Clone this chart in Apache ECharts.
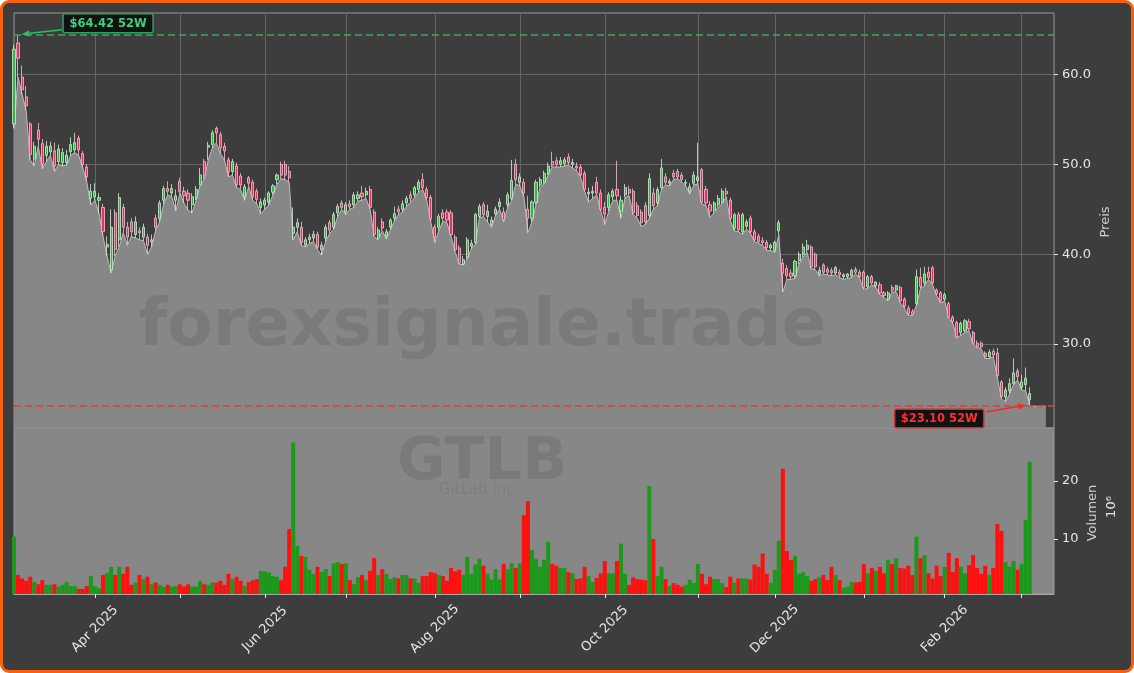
<!DOCTYPE html>
<html><head><meta charset="utf-8">
<script src="https://cdn.jsdelivr.net/npm/echarts@6/dist/echarts.min.js"></script>
<style>
html,body{margin:0;padding:0;background:#ffffff;}
#frame{position:absolute;left:0;top:0;width:1134px;height:673px;box-sizing:border-box;border:3px solid #f7600c;border-radius:9px;background:#3d3d3d;}
#c{position:absolute;left:0;top:0;width:1134px;height:673px;}
</style></head>
<body><div id="frame"></div><div id="c"></div>
<script>
// ---------- data ----------
const startDate = '2025-03-04';
const holidays = ['2025-04-18','2025-05-26','2025-06-19','2025-07-04','2025-09-01','2025-11-27','2025-12-25','2026-01-01','2026-01-19','2026-02-16'];
const tradingDays = 252;
const padDays = 6;

const opens = [54.5,63.5,59.7,57.5,54.5,50.6,53.8,52.3,51.0,51.4,
51.5,50.3,50.2,50.2,51.4,51.6,52.9,51.2,49.7,46.2,
46.4,46.0,45.2,40.8,38.3,44.6,41.6,45.2,43.0,43.6,
42.2,42.6,41.9,41.9,41.4,44.0,44.0,46.0,47.3,46.8,
46.0,48.1,47.0,46.8,45.5,46.3,47.7,50.3,51.9,52.2,
54.0,53.3,52.0,50.5,49.2,49.8,48.7,46.4,48.5,48.0,
47.0,45.2,45.5,45.8,46.9,48.3,50.0,50.0,49.2,42.3,
43.0,43.0,41.0,41.6,41.8,42.2,40.5,41.8,43.5,43.0,
44.6,45.7,44.7,45.6,45.5,46.2,46.8,46.6,47.2,44.7,
41.9,43.6,42.0,43.0,44.0,45.0,45.0,45.7,46.6,46.6,
47.2,48.3,47.2,46.3,43.0,43.0,44.6,44.7,44.6,41.9,
40.7,38.9,39.7,40.9,41.3,44.2,45.5,44.2,43.3,44.5,
45.3,44.7,45.5,46.2,50.0,48.0,48.0,45.0,44.0,45.8,
47.7,48.0,49.0,50.3,50.4,50.0,50.1,50.8,50.0,49.8,
49.7,49.0,46.7,46.8,48.0,46.8,45.2,45.2,46.4,47.2,
44.8,46.6,47.2,47.0,45.4,44.7,45.4,44.3,46.8,45.7,
47.4,48.6,47.9,49.0,49.2,48.8,47.9,47.0,47.9,48.2,
49.4,47.2,45.5,44.9,45.5,45.8,47.0,46.0,42.9,44.4,
42.5,43.1,44.0,42.5,42.0,41.5,41.3,40.7,40.4,42.6,
39.0,38.4,37.9,37.6,39.3,40.0,40.5,40.8,40.0,37.8,
38.8,38.3,38.2,37.9,38.0,37.5,37.5,37.6,38.3,38.0,
38.0,36.4,37.5,36.5,36.6,35.7,35.0,36.3,36.0,36.3,
35.0,34.0,33.6,34.5,37.4,36.8,38.0,38.5,36.0,35.7,
35.0,34.5,33.0,32.4,31.3,31.5,32.5,31.3,30.1,30.1,
29.0,28.6,29.2,29.0,25.8,24.1,24.8,25.6,27.0,25.2,
25.5,23.8];

const highs = [63.3,64.42,61.0,58.7,54.7,52.5,54.6,52.8,52.6,52.5,
52.4,52.2,51.8,51.6,53.0,53.5,53.2,51.5,50.0,47.8,
47.9,46.8,45.6,42.0,45.0,45.0,46.8,45.6,43.6,44.0,
44.2,43.0,43.4,42.3,42.2,44.4,46.0,47.6,48.1,47.8,
47.2,48.5,47.5,47.2,46.8,47.6,49.6,50.6,52.5,53.8,
54.2,53.6,52.4,50.8,50.6,50.2,49.0,47.8,48.7,48.3,
47.3,46.2,46.3,47.0,47.8,49.0,50.3,50.4,49.8,45.2,
44.0,43.6,41.9,42.3,42.6,42.5,41.4,43.3,43.8,44.7,
45.6,46.0,45.8,46.0,46.9,47.0,47.6,47.4,47.6,45.0,
43.0,44.0,42.8,44.0,45.3,45.4,46.0,46.5,47.0,47.6,
48.3,49.0,47.5,46.6,43.3,44.5,45.0,45.0,44.9,42.2,
41.0,39.8,41.9,41.6,44.6,45.6,45.8,45.5,44.2,45.3,
46.2,45.2,46.9,50.5,50.6,49.0,48.4,46.5,46.0,48.3,
48.6,49.3,50.2,51.4,50.8,50.8,50.8,51.2,50.6,50.2,
50.0,49.3,47.4,47.6,48.6,47.2,45.8,46.9,47.3,50.4,
46.5,47.8,47.6,47.3,45.8,45.0,45.8,49.0,47.4,47.5,
50.6,49.0,48.4,49.4,49.5,49.1,48.3,47.9,49.2,52.4,
49.6,47.6,45.9,45.9,46.6,47.3,47.4,46.3,44.6,44.7,
44.6,43.9,44.3,42.8,42.3,41.9,41.6,41.2,41.5,43.8,
39.5,38.8,38.3,39.4,40.3,41.2,41.6,41.0,40.2,38.6,
39.0,38.6,38.5,38.7,38.3,37.9,37.9,38.4,38.6,38.3,
38.2,37.7,37.7,37.0,36.9,35.9,35.9,36.6,36.6,36.5,
35.2,34.3,33.9,38.3,38.5,38.6,38.6,38.7,36.2,35.9,
35.7,34.7,33.2,32.6,32.5,32.8,32.8,31.5,30.4,30.3,
29.2,29.4,29.5,29.6,26.0,25.2,26.2,28.4,27.3,26.6,
27.4,25.2];

const lows = [54.0,59.7,57.8,56.0,50.5,49.8,52.0,49.5,50.3,51.0,
49.2,50.0,49.8,49.9,51.0,51.3,51.0,49.6,48.0,45.5,
46.0,44.6,42.0,39.8,37.9,39.8,40.8,42.4,41.0,42.0,
41.8,41.6,41.5,40.0,40.8,42.6,43.6,45.6,46.6,46.4,
44.8,46.8,45.7,44.9,44.6,46.0,47.7,48.3,50.5,51.8,
52.4,51.2,50.5,48.6,48.8,47.4,47.2,46.0,47.5,46.0,
45.6,44.5,45.0,45.5,46.6,47.8,48.4,48.3,48.0,41.6,
42.5,41.0,40.8,41.2,41.4,40.5,39.9,41.4,42.3,42.8,
44.2,45.0,44.4,45.0,45.2,45.9,46.0,46.2,45.0,42.0,
41.6,42.6,41.7,42.7,43.7,44.4,44.7,45.3,45.8,46.3,
46.9,47.2,46.0,43.6,41.3,42.6,43.7,43.5,42.0,40.3,
38.9,38.8,39.4,40.6,41.1,44.0,44.2,43.6,43.0,44.3,
45.0,43.6,45.2,46.0,47.8,47.6,46.4,42.4,43.6,45.5,
47.4,47.8,48.8,49.7,49.7,49.7,49.8,49.9,49.6,49.3,
48.6,47.0,45.8,46.2,46.6,44.8,43.3,44.8,46.0,46.0,
44.0,46.3,46.5,44.4,44.0,43.1,43.3,44.0,45.0,45.4,
47.2,47.7,47.6,48.3,48.4,48.0,47.6,46.7,47.7,47.8,
45.6,45.4,44.1,44.6,45.2,45.6,46.4,43.8,42.6,42.5,
42.2,42.8,42.3,41.4,41.2,41.0,40.4,40.4,40.2,42.2,
35.8,37.2,37.2,37.3,38.9,39.7,40.2,38.4,38.3,37.6,
37.8,37.7,37.6,37.7,37.4,37.2,37.3,37.4,37.8,37.3,
36.1,36.2,36.6,36.3,35.5,35.2,34.8,35.8,35.8,34.6,
34.0,33.2,33.2,34.3,36.2,36.5,37.2,36.6,35.4,34.6,
34.8,32.9,32.3,30.7,31.0,31.3,31.5,30.0,29.6,29.5,
28.4,28.4,28.6,26.3,23.9,23.6,24.4,25.5,26.0,24.9,
24.8,23.10];

const closes = [62.8,61.8,58.3,56.5,51.1,52.0,52.8,50.0,52.0,52.0,
49.8,51.7,51.3,51.0,52.2,52.4,51.6,50.0,48.6,47.0,
47.0,46.3,42.5,41.1,43.0,40.5,46.3,43.0,41.9,42.5,
43.6,42.4,43.0,41.0,41.6,43.0,45.7,47.3,47.0,47.3,
46.5,47.0,46.5,46.0,46.4,47.2,48.8,48.8,52.1,53.5,
53.5,51.8,51.5,49.2,50.3,47.7,47.7,47.5,47.9,46.4,
46.1,45.8,46.0,46.8,47.6,48.8,48.8,48.8,48.5,43.0,
43.5,41.3,41.6,41.9,42.2,40.8,41.0,43.0,42.7,44.4,
45.3,45.2,45.5,45.3,46.6,46.6,46.4,47.0,45.2,42.2,
42.7,42.9,42.5,43.8,44.5,44.7,45.6,46.2,46.2,47.4,
48.0,47.4,46.3,43.9,41.9,44.2,44.0,43.8,42.2,40.5,
39.0,39.4,41.6,41.2,44.4,45.3,44.4,44.8,43.8,45.0,
45.8,43.8,46.6,48.2,48.3,48.6,46.8,44.0,45.8,48.0,
48.3,49.0,49.8,49.9,50.0,50.4,50.5,50.2,50.2,49.6,
48.8,47.2,46.9,47.0,46.8,45.0,44.5,46.6,47.0,46.5,
46.0,47.4,46.8,44.6,44.3,43.5,43.6,48.4,45.4,47.2,
49.6,48.0,48.1,48.6,48.6,48.3,48.0,47.5,48.8,48.6,
45.8,45.7,44.8,45.7,46.2,47.0,46.7,44.0,44.4,42.7,
44.4,43.6,42.5,41.6,41.4,41.3,40.7,41.0,41.3,43.5,
37.9,37.6,37.5,39.2,40.0,40.8,41.0,38.6,38.6,38.2,
38.0,38.0,37.9,38.5,37.7,37.7,37.8,38.2,38.0,37.5,
36.3,37.5,36.8,36.9,35.7,35.4,35.7,36.0,36.5,34.8,
34.2,33.4,33.3,37.5,36.4,37.8,37.4,36.8,35.6,34.8,
35.5,33.0,32.5,30.8,32.3,32.6,31.7,30.1,29.7,29.7,
28.6,29.1,28.8,26.5,24.2,24.9,25.6,26.8,26.4,25.8,
26.2,24.5];

// volume in millions
const volumes = [10.4,3.8,3.2,2.8,3.5,2.6,2.2,2.9,2.1,2.1,
2.2,1.8,2.1,2.6,1.9,1.9,1.4,1.4,1.9,3.6,
1.9,1.5,3.8,4.1,5.2,3.8,5.2,4.0,5.2,2.1,
2.5,3.8,3.1,3.5,2.2,2.5,2.1,1.8,2.1,1.8,
1.9,2.2,1.8,2.2,1.8,1.8,2.8,2.2,2.1,2.5,
2.5,2.8,2.1,4.0,3.1,3.5,2.8,1.9,2.6,2.9,
3.1,4.5,4.4,4.2,3.6,3.5,2.9,5.2,11.7,26.6,
8.8,7.1,6.9,4.7,4.0,5.2,4.3,4.8,3.6,5.8,
6.0,5.7,5.8,2.9,2.2,3.4,3.8,2.9,4.5,6.7,
3.8,4.8,4.0,3.1,3.4,3.2,3.8,3.8,3.2,3.2,
2.4,3.6,3.6,4.3,4.1,3.8,3.6,2.8,5.0,4.4,
4.7,3.8,6.9,4.0,5.6,6.6,5.4,4.0,3.0,4.8,
3.0,5.7,4.8,5.8,5.0,5.8,14.1,16.5,8.1,6.5,
5.2,6.4,9.5,5.7,5.4,5.0,5.0,4.3,4.1,3.1,
3.2,5.2,3.6,2.6,3.3,4.1,6.2,4.1,4.1,6.2,
9.2,4.0,2.1,3.4,3.1,3.0,2.9,19.1,10.0,3.6,
5.2,3.1,1.9,2.4,2.1,1.8,2.1,3.0,2.4,5.7,
4.0,2.2,3.5,3.1,3.1,2.4,1.7,3.5,2.5,3.2,
3.2,3.2,3.0,5.6,5.2,7.5,4.0,2.4,4.7,9.7,
22.1,7.9,6.4,7.1,4.0,4.3,3.6,2.8,3.1,3.4,
3.8,2.9,5.2,3.8,2.9,1.6,1.8,2.6,2.5,2.6,
5.7,4.1,5.0,4.5,5.2,4.1,6.4,5.7,6.7,5.0,
4.9,5.4,3.8,10.4,6.7,7.2,4.1,3.2,5.4,3.6,
5.2,7.6,4.3,6.7,5.2,4.1,5.5,7.2,5.0,4.0,
5.4,3.8,5.0,12.6,11.4,6.0,5.2,6.2,4.7,5.7,
13.3,23.3];

const lowTail = [23.1, 23.1, 23.1, 23.1];   // flat end of the shaded low band
const priceTicks = [30, 40, 50, 60];
const volumeTicks = [10, 20];
const priceRange = [20.67, 66.83];
const volumeRange = [0.52, 29.1];
const ticker = 'GTLB';
const company = 'GitLab Inc.';
const watermark = 'forexsignale.trade';
const MONTHS = ['Jan','Feb','Mar','Apr','May','Jun','Jul','Aug','Sep','Oct','Nov','Dec'];

// ---------- build ----------
function buildDates(n) {
  const out = [];
  const d = new Date(startDate + 'T12:00:00Z');
  while (out.length < n) {
    const wd = d.getUTCDay();
    const s = d.toISOString().slice(0, 10);
    if (wd !== 0 && wd !== 6 && holidays.indexOf(s) < 0) out.push(s);
    d.setUTCDate(d.getUTCDate() + 1);
  }
  return out;
}
const dates = buildDates(tradingDays + padDays);
const monthStart = new Set();
for (let i = 1; i < dates.length; i++) {
  if (dates[i].slice(5, 7) !== dates[i - 1].slice(5, 7)) monthStart.add(i);
}
const isTick = (idx) => monthStart.has(idx);
const isLabel = (idx, val) => monthStart.has(idx) && (+String(val).slice(5, 7)) % 2 === 0;

const candleData = opens.map((o, i) => [o, closes[i], lows[i], highs[i]]);
const areaData = lows.concat(lowTail);
const GREEN = '#1c991c', RED = '#fe1010';
const volData = volumes.map((v, i) => ({ value: v, itemStyle: { color: closes[i] >= opens[i] ? GREEN : RED } }));

const FONT = 'DejaVu Sans';
const GL = 14, GW = 1040;

const chart = echarts.init(document.getElementById('c'), null, { renderer: 'canvas' });
const option = {
  backgroundColor: 'transparent',
  animation: false,
  textStyle: { fontFamily: FONT },
  grid: [
    { left: GL, top: 13, width: GW, height: 415, show: true, backgroundColor: '#3d3d3d', borderColor: '#9a9a9a', borderWidth: 1 },
    { left: GL, top: 428, width: GW, height: 166, show: true, backgroundColor: '#878787', borderColor: '#9a9a9a', borderWidth: 1 }
  ],
  xAxis: [
    { type: 'category', gridIndex: 0, data: dates, boundaryGap: false,
      axisLine: { show: false }, axisTick: { show: false }, axisLabel: { show: false },
      splitLine: { show: true, interval: isTick, lineStyle: { color: '#666666', width: 1 } } },
    { type: 'category', gridIndex: 1, data: dates, boundaryGap: false,
      axisLine: { show: true, lineStyle: { color: '#a8a8a8' } },
      axisTick: { show: true, interval: isTick, length: 4, lineStyle: { color: '#e8e8e8', width: 1 } },
      axisLabel: { show: true, interval: isLabel,
        rotate: 45, align: 'center', verticalAlign: 'middle', margin: 35,
        color: '#e6e6e6', fontSize: 13, fontFamily: FONT,
        formatter: (v) => MONTHS[+v.slice(5, 7) - 1] + ' ' + v.slice(0, 4) },
      splitLine: { show: false } }
  ],
  yAxis: [
    { type: 'value', gridIndex: 0, position: 'right', min: priceRange[0], max: priceRange[1],
      axisLine: { show: false },
      axisTick: { show: true, length: 4, customValues: priceTicks, lineStyle: { color: '#e8e8e8' } },
      axisLabel: { show: true, customValues: priceTicks, margin: 8, color: '#e6e6e6', fontSize: 13, fontFamily: FONT,
        formatter: (v) => v.toFixed(1) },
      splitLine: { show: true, lineStyle: { color: '#666666', width: 1 } } },
    { type: 'value', gridIndex: 1, position: 'right', min: volumeRange[0], max: volumeRange[1],
      axisLine: { show: false },
      axisTick: { show: true, length: 4, customValues: volumeTicks, lineStyle: { color: '#e8e8e8' } },
      axisLabel: { show: true, customValues: volumeTicks, margin: 8, color: '#e6e6e6', fontSize: 13, fontFamily: FONT,
        formatter: (v) => String(Math.round(v)) },
      splitLine: { show: false } }
  ],
  series: [
    { type: 'line', xAxisIndex: 0, yAxisIndex: 0, data: areaData, symbol: 'none', z: 2,
      lineStyle: { color: '#bdbdbd', width: 1 },
      areaStyle: { color: '#878787', opacity: 1, origin: 'start' } },
    { type: 'candlestick', xAxisIndex: 0, yAxisIndex: 0, data: candleData, barWidth: 2.6, z: 3,
      itemStyle: { color: '#36b54a', color0: '#e8335f', borderColor: '#d5ecd5', borderColor0: '#f3c3d0', borderWidth: 0.8 },
      markLine: { silent: true, symbol: 'none', label: { show: false },
        data: [
          { yAxis: Math.max(...highs), lineStyle: { color: '#3da662', width: 1.6, type: [7, 4] } },
          { yAxis: Math.min(...lows), lineStyle: { color: '#d8413f', width: 1.6, type: [7, 4] } }
        ] } },
    { type: 'bar', xAxisIndex: 1, yAxisIndex: 1, data: volData, barCategoryGap: '0%', barGap: '0%' }
  ]
};
chart.setOption(option);

// ---------- annotations ----------
const hiVal = Math.max(...highs), loVal = Math.min(...lows);
const hiIdx = highs.indexOf(hiVal), loIdx = lows.indexOf(loVal);
const hp = chart.convertToPixel({ gridIndex: 0 }, [hiIdx, hiVal]);
const lp = chart.convertToPixel({ gridIndex: 0 }, [loIdx, loVal]);

function arrow(tail, tip, color) {
  const dx = tip[0] - tail[0], dy = tip[1] - tail[1], L = Math.hypot(dx, dy);
  const ux = dx / L, uy = dy / L, hl = 8, hw = 3.2;
  const base = [tip[0] - ux * hl, tip[1] - uy * hl];
  return [
    { type: 'line', z: 20, shape: { x1: tail[0], y1: tail[1], x2: base[0], y2: base[1] }, style: { stroke: color, lineWidth: 1.6 } },
    { type: 'polygon', z: 20, shape: { points: [tip, [base[0] - uy * hw, base[1] + ux * hw], [base[0] + uy * hw, base[1] - ux * hw]] }, style: { fill: color } }
  ];
}
function box(x, y, w, h, text, stroke, color) {
  return [
    { type: 'rect', z: 21, shape: { x: x, y: y, width: w, height: h, r: 2 }, style: { fill: '#121212', stroke: stroke, lineWidth: 1.5 } },
    { type: 'text', z: 22, x: x + w / 2, y: y + h / 2 + 0.5, style: { text: text, fill: color, font: 'bold 11.5px "DejaVu Sans"', align: 'center', verticalAlign: 'middle' } }
  ];
}
const hiTip = [hp[0] + 3.4, hp[1] - 0.5];
const loTip = [lp[0] - 3.7, lp[1] - 1];
const fmt = (v) => '$' + v.toFixed(2) + ' 52W';

const graphics = [].concat(
  [
    { type: 'text', z: 5, x: 482.5, y: 328, style: { text: watermark, fill: 'rgba(0,0,0,0.09)', font: 'bold 66px "DejaVu Sans"', align: 'center', verticalAlign: 'middle' } },
    { type: 'text', z: 5, x: 482, y: 464, style: { text: ticker, fill: 'rgba(0,0,0,0.09)', font: 'bold 59px "DejaVu Sans"', align: 'center', verticalAlign: 'middle' } },
    { type: 'text', z: 5, x: 479, y: 490, style: { text: company, fill: 'rgba(0,0,0,0.07)', font: '15px "DejaVu Sans"', align: 'center', verticalAlign: 'middle' } },
    { type: 'text', z: 5, x: 1106, y: 222, rotation: Math.PI / 2, style: { text: 'Preis', fill: '#d0d0d0', font: '13px "DejaVu Sans"', align: 'center', verticalAlign: 'middle' } },
    { type: 'text', z: 5, x: 1093, y: 513, rotation: Math.PI / 2, style: { text: 'Volumen', fill: '#d0d0d0', font: '13px "DejaVu Sans"', align: 'center', verticalAlign: 'middle' } },
    { type: 'text', z: 5, x: 1112, y: 507, rotation: Math.PI / 2, style: { text: '10\u2076', fill: '#e6e6e6', font: '13px "DejaVu Sans"', align: 'center', verticalAlign: 'middle' } }
  ],
  arrow([hiTip[0] + 41, hiTip[1] - 4.4], hiTip, '#34b865'),
  box(hiTip[0] + 41.6, hiTip[1] - 20.4, 90, 19, fmt(hiVal), '#2f9e5c', '#3ad07c'),
  arrow([loTip[0] - 40, loTip[1] + 6.7], loTip, '#e8302e'),
  box(loTip[0] - 131.3, loTip[1] + 4, 89, 18.7, fmt(loVal), '#d02a2a', '#ff3030')
);
chart.setOption({ graphic: graphics });
</script>
</body></html>
